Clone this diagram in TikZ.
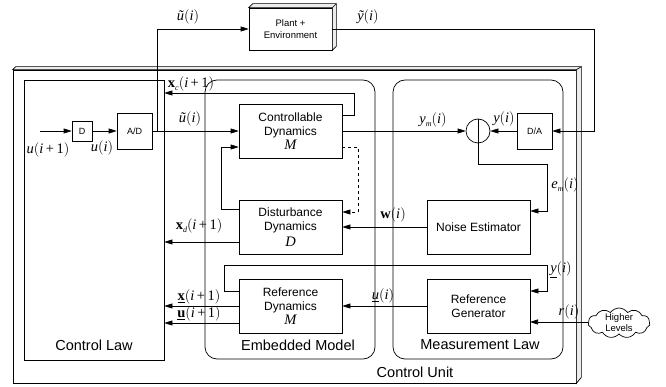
\documentclass[tikz,border=0pt]{standalone}
\usepackage[no-math]{fontspec}
\setmainfont{Liberation Sans}
\newfontfamily\tms{Liberation Serif}
\usetikzlibrary{arrows.meta,shapes.symbols,calc}
\newcommand{\Lp}{\upshape$\bigl($}
\newcommand{\Rp}{\upshape$\bigr)$}
\newcommand{\It}[1]{{\itshape #1}}
\newcommand{\Bf}[1]{{\bfseries\upshape #1}}
\newcommand{\Sb}[1]{\raisebox{-2.5pt}{\fontsize{8}{9}\selectfont\itshape #1}}
\newcommand{\ipo}{\It{i}\,\upshape+\,1}
\newcommand{\BigIt}[1]{{\tms\itshape\fontsize{14.5}{16}\selectfont #1}}
\begin{document}
\begin{tikzpicture}[x=1pt,y=-1pt,
  line width=0.7pt,
  arr/.style={-{Triangle[length=8pt,width=5pt]}},
  blk/.style={draw,rectangle,minimum width=103pt,minimum height=54pt,align=center,font=\fontsize{12}{14}\selectfont,inner sep=1pt},
  sm/.style={draw,rectangle,align=center,font=\fontsize{9}{11}\selectfont,inner sep=0pt},
  lab/.style={font=\tms\fontsize{14.5}{16}\selectfont,inner sep=0pt},
  ttl/.style={font=\fontsize{14.5}{17}\selectfont,inner sep=0pt},
  area/.style={draw,rectangle,inner sep=0pt}
]
\useasboundingbox (0,0) rectangle (666,387);

% Control Unit 3D box
\node[area,minimum width=563pt,minimum height=313pt] (CU) at (294.5,226.5) {};
\filldraw[fill=gray!15] (CU.north west) -- ++(3,-3) -- ($(CU.north east)+(5,-3)$) -- ($(CU.south east)+(5,-6)$) -- (CU.south east) -- (CU.north east) -- cycle;
\draw (CU.north east) -- ++(5,-3);
\node[ttl] (tCU) at (415,372) {Control Unit};

% areas
\node[area,minimum width=140pt,minimum height=280pt] (CL) at (94,220) {};
\node[area,rounded corners=12pt,minimum width=170pt,minimum height=279pt] (EM) at (290,219.5) {};
\node[area,rounded corners=12pt,minimum width=170pt,minimum height=279pt] (ML) at (478,219.5) {};
\node[ttl] (tCL) at (94,345) {Control Law};
\node[ttl] (tEM) at (298,345) {Embedded Model};
\node[ttl] (tML) at (480,345) {Measurement Law};

% blocks
\node[blk] (CD) at (290.5,131) {Controllable\\Dynamics\\\BigIt{M}};
\node[blk] (DD) at (290.5,227) {Disturbance\\Dynamics\\[2pt]\BigIt{D}};
\node[blk] (RD) at (290.5,306) {Reference\\Dynamics\\\BigIt{M}};
\node[blk] (NE) at (478.5,227) {Noise Estimator};
\node[blk] (RG) at (478.5,306) {Reference\\Generator};
\node[sm,minimum width=35pt,minimum height=36pt] (DA) at (534.5,131) {D/A};
\node[sm,minimum width=35pt,minimum height=36pt] (AD) at (134.5,131) {A/D};
\node[sm,minimum width=20pt,minimum height=20pt] (Dl) at (82,131) {D};
\node[draw,circle,minimum size=24pt,inner sep=0pt] (sum) at (478,131) {};
\draw (sum.north) -- (sum.south);

% plant
\node[draw,rectangle,minimum width=83pt,minimum height=42pt,align=center,font=\fontsize{9.5}{11.5}\selectfont,inner sep=0pt] (plant) at (290.5,29) {Plant +\\Environment};
\filldraw[fill=gray!15] (plant.north west) -- ++(4,-4) -- ($(plant.north east)+(4,-4)$) -- ($(plant.south east)+(4,-4)$) -- (plant.south east) -- (plant.north east) -- cycle;
\draw (plant.north east) -- ++(4,-4);

% cloud
\node[cloud,draw,cloud puffs=11,cloud puff arc=110,aspect=2.1,minimum width=62pt,minimum height=30pt,inner sep=-2pt,align=center,font=\fontsize{9.5}{11}\selectfont] (HL) at (619,323) {Higher\\Levels};

% coordinates
\coordinate (uin) at (40,131);
\coordinate (sp) at (157,131);
\coordinate (yr) at (594,131);
\coordinate (e1) at (547,164);
\coordinate (e2) at (547,211);
\coordinate (ds0) at (342,147);
\coordinate (ds) at (358,212);
\coordinate (xc0) at (342,115);
\coordinate (xc) at (354,93);
\coordinate (dd0) at (239,209);
\coordinate (dl) at (221,147);
\coordinate (xd) at (239,242);
\coordinate (r1) at (239,291);
\coordinate (r2) at (224,265);
\coordinate (r3) at (547,291);
\coordinate (xr) at (239,306);
\coordinate (ur) at (239,323);
\coordinate (hl) at (530,322);

% connectors
\draw[arr] (uin) -- (Dl);
\draw[arr] (Dl) -- (AD);
\draw[arr] (AD) -- (CD);
\draw[arr] (sp) |- (plant.west);
\draw[arr] (plant.east) -| (yr) -- (DA.east);
\draw[arr] (DA) -- (sum);
\draw[arr] (CD) -- (sum);
\draw[arr] (sum.south) |- (e1) -- (e2) -- (NE.east |- e2);
\draw[arr] (NE) -- (DD);
\draw[arr,dashed] (ds0) -| (ds) -- (DD.east |- ds);
\draw[arr] (xc0) -| (xc) -- (CL.east |- xc);
\draw[arr] (dd0) -| (dl) -- (CD.west |- dl);
\draw[arr] (xd) -- (CL.east |- xd);
\draw[arr] (r1) -| (r2) -| (r3) -- (RG.east |- r3);
\draw[arr] (xr) -- (CL.east |- xr);
\draw[arr] (ur) -- (CL.east |- ur);
\draw[arr] (RG) -- (RD);
\draw[arr] (HL.west |- hl) -- (hl);

% labels
\node[lab] (l1) at (188,17) {\It{ũ}\Lp\It{i}\Rp};
\node[lab] (l2) at (190,119) {\It{ũ}\Lp\It{i}\Rp};
\node[lab] (l3) at (368,17) {\It{ỹ}\Lp\It{i}\Rp};
\node[lab] (l4) at (433,120) {\It{y}\Sb{m}\Lp\It{i}\Rp};
\node[lab] (l5) at (504,119) {\It{y}\Lp\It{i}\Rp};
\node[lab] (l6) at (565,185) {\It{e}\Sb{m}\Lp\It{i}\Rp};
\node[lab] (l7) at (393,215) {\Bf{w}\Lp\It{i}\Rp};
\node[lab] (l8) at (191,84) {\Bf{x}\Sb{c}\Lp\ipo\Rp};
\node[lab] (l9) at (199,226) {\Bf{x}\Sb{d}\Lp\ipo\Rp};
\node[lab] (l10) at (561,270) {\underline{\It{y}}\Lp\It{i}\Rp};
\node[lab] (l11) at (383,296) {\underline{\It{u}}\Lp\It{i}\Rp};
\node[lab] (l12) at (199,297) {\underline{\Bf{x}}\Lp\ipo\Rp};
\node[lab] (l13) at (199,314) {\underline{\Bf{u}}\Lp\ipo\Rp};
\node[lab] (l14) at (569,312) {\It{r}\Lp\It{i}\Rp};
\node[lab] (l15) at (48,150) {\It{u}\Lp\ipo\Rp};
\node[lab] (l16) at (102,148) {\It{u}\Lp\It{i}\Rp};
\end{tikzpicture}
\end{document}
